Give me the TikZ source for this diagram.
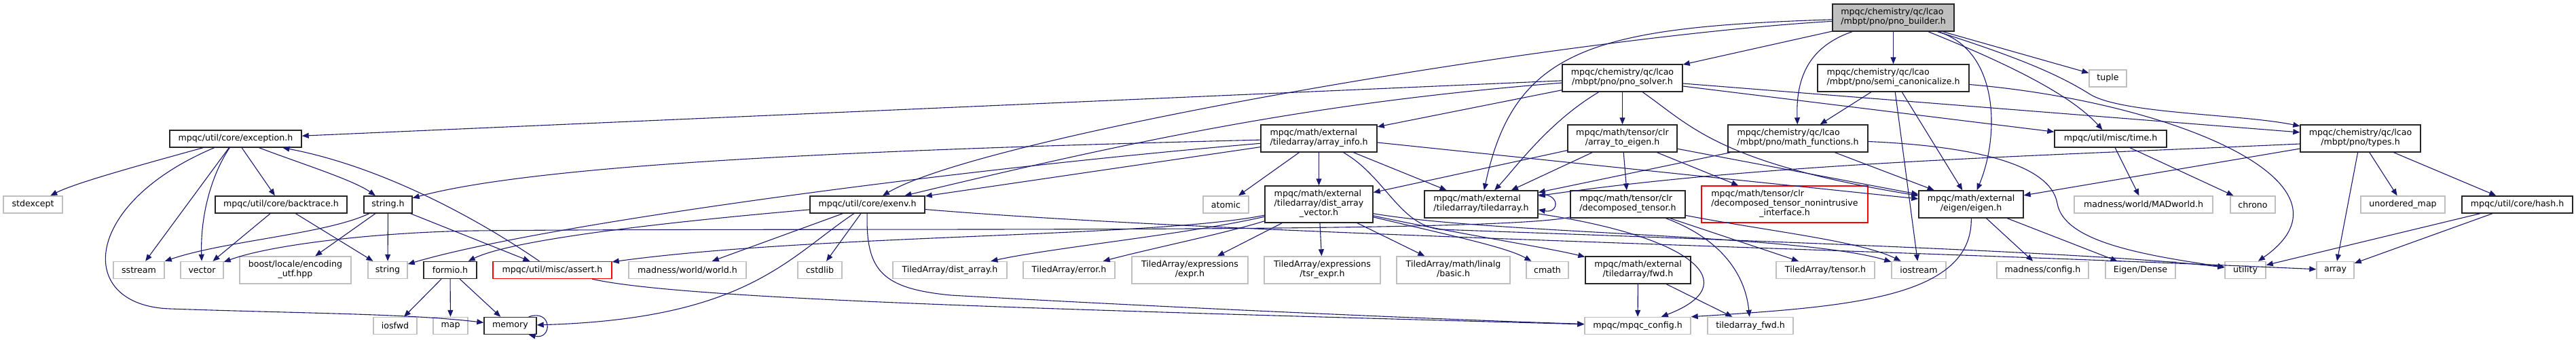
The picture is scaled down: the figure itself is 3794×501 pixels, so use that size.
\documentclass[tikz,border=0pt]{standalone}
\usepackage{fontspec}
\setmainfont{DejaVu Sans}
\usetikzlibrary{arrows.meta}
\definecolor{edgeBlue}{RGB}{25,25,112}
\definecolor{boxGrey}{RGB}{191,191,191}
\definecolor{boxRed}{RGB}{255,0,0}
\newcommand{\twoln}[2]{\begin{tabular}{@{}l@{}}#1\\\multicolumn{1}{@{}c@{}}{#2}\end{tabular}}
\newcommand{\threeln}[3]{\begin{tabular}{@{}l@{}}#1\\#2\\\multicolumn{1}{@{}c@{}}{#3}\end{tabular}}

\begin{document}
\begin{tikzpicture}[x=0.5pt, y=-0.5pt,
        hdr/.style={rectangle, draw=black!85, fill=white, line width=0.7pt, inner sep=0pt, font=\fontsize{6.3}{7}\selectfont},
        sys/.style={hdr, draw=boxGrey},
        miss/.style={hdr, draw=boxRed},
        rootbox/.style={hdr, fill=boxGrey},
        one/.style={minimum height=12.5pt},
        two/.style={minimum height=20pt},
        three/.style={minimum height=27pt},
        arr/.style={-{Triangle[length=5pt,width=4pt]}, draw=edgeBlue, line width=0.55pt},
    ]
    \useasboundingbox (0,0) rectangle (3794,501);
    % rows 0-2
    \node[rootbox, two, minimum width=89.5pt] (pb) at (2788.5,26) {\twoln{mpqc/chemistry/qc/lcao}{/mbpt/pno/pno\_builder.h}};
    \node[hdr, two, minimum width=88.5pt] (ps) at (2389.5,115) {\twoln{mpqc/chemistry/qc/lcao}{/mbpt/pno/pno\_solver.h}};
    \node[hdr, two, minimum width=111.5pt] (semi) at (2788.5,115) {\twoln{mpqc/chemistry/qc/lcao}{/mbpt/pno/semi\_canonicalize.h}};
    \node[sys, one, minimum width=27.5pt] (tuple) at (3104.5,115.5) {tuple};
    \node[hdr, one, minimum width=97pt] (exc) at (347,204.5) {mpqc/util/core/exception.h};
    \node[hdr, two, minimum width=85.5pt] (arrinfo) at (1942.5,204) {\twoln{mpqc/math/external}{/tiledarray/array\_info.h}};
    \node[hdr, two, minimum width=80.5pt] (a2e) at (2389.5,204) {\twoln{mpqc/math/tensor/clr}{/array\_to\_eigen.h}};
    \node[hdr, two, minimum width=103pt] (mathfn) at (2648,204) {\twoln{mpqc/chemistry/qc/lcao}{/mbpt/pno/math\_functions.h}};
    \node[hdr, one, minimum width=82.5pt] (timeh) at (3108.5,204.5) {mpqc/util/misc/time.h};
    \node[hdr, two, minimum width=88.5pt] (types) at (3476.5,204) {\twoln{mpqc/chemistry/qc/lcao}{/mbpt/pno/types.h}};
    % row 3
    \node[sys, one, minimum width=43.5pt] (stdexc) at (48.5,301.5) {stdexcept};
    \node[hdr, one, minimum width=97pt] (btrace) at (414,301.5) {mpqc/util/core/backtrace.h};
    \node[hdr, one, minimum width=35.5pt] (strh) at (571.5,301.5) {string.h};
    \node[hdr, one, minimum width=84.5pt] (exenv) at (1277.5,301.5) {mpqc/util/core/exenv.h};
    \node[sys, one, minimum width=33.5pt] (atomic) at (1805.5,301.5) {atomic};
    \node[hdr, three, minimum width=79.5pt] (dav) at (1942.5,301) {\threeln{mpqc/math/external}{/tiledarray/dist\_array}{\_vector.h}};
    \node[hdr, two, minimum width=83.5pt] (tah) at (2181.5,301) {\twoln{mpqc/math/external}{/tiledarray/tiledarray.h}};
    \node[hdr, two, minimum width=84.5pt] (dect) at (2397.5,301) {\twoln{mpqc/math/tensor/clr}{/decomposed\_tensor.h}};
    \node[miss, three, minimum width=122.5pt] (nonintr) at (2628.5,301) {\threeln{mpqc/math/tensor/clr}{/decomposed\_tensor\_nonintrusive}{\_interface.h}};
    \node[hdr, two, minimum width=77pt] (eigen) at (2903,301) {\twoln{mpqc/math/external}{/eigen/eigen.h}};
    \node[sys, one, minimum width=102pt] (madw) at (3157,301.5) {madness/world/MADworld.h};
    \node[sys, one, minimum width=33pt] (chrono) at (3318,301.5) {chrono};
    \node[sys, one, minimum width=62pt] (umap) at (3539,301.5) {unordered\_map};
    \node[hdr, one, minimum width=81.5pt] (hash) at (3707.5,301.5) {mpqc/util/core/hash.h};
    % row 4
    \node[sys, one, minimum width=37.5pt] (sstr) at (204.5,398) {sstream};
    \node[sys, one, minimum width=31.5pt] (vec) at (297.5,398) {vector};
    \node[sys, two, minimum width=82pt] (boost) at (435,398) {\twoln{boost/locale/encoding}{\_utf.hpp}};
    \node[sys, one, minimum width=29pt] (str) at (571,398) {string};
    \node[hdr, one, minimum width=39pt] (formio) at (663,398) {formio.h};
    \node[miss, one, minimum width=87.5pt] (assert) at (813.5,398) {mpqc/util/misc/assert.h};
    \node[sys, one, minimum width=86.5pt] (worldh) at (1012.5,398) {madness/world/world.h};
    \node[sys, one, minimum width=32.5pt] (cstdlib) at (1207.5,398) {cstdlib};
    \node[sys, one, minimum width=84pt] (tadist) at (1399,398) {TiledArray/dist\_array.h};
    \node[sys, one, minimum width=67.5pt] (taerr) at (1574.5,398) {TiledArray/error.h};
    \node[sys, two, minimum width=85.5pt] (taexpr) at (1752.5,398) {\twoln{TiledArray/expressions}{/expr.h}};
    \node[sys, two, minimum width=85.5pt] (tatsr) at (1947.5,398) {\twoln{TiledArray/expressions}{/tsr\_expr.h}};
    \node[sys, two, minimum width=83.5pt] (tabasic) at (2140.5,398) {\twoln{TiledArray/math/linalg}{/basic.h}};
    \node[sys, one, minimum width=31pt] (cmath) at (2279,398) {cmath};
    \node[hdr, two, minimum width=77.5pt] (fwd) at (2412.5,398) {\twoln{mpqc/math/external}{/tiledarray/fwd.h}};
    \node[sys, one, minimum width=72.5pt] (tatensor) at (2688.5,398) {TiledArray/tensor.h};
    \node[sys, one, minimum width=40pt] (iostr) at (2826,398) {iostream};
    \node[sys, one, minimum width=67.5pt] (madcfg) at (3008.5,398) {madness/config.h};
    \node[sys, one, minimum width=51.5pt] (edense) at (3152.5,398) {Eigen/Dense};
    \node[sys, one, minimum width=30pt] (util) at (3307,398) {utility};
    \node[sys, one, minimum width=27.5pt] (stdarr) at (3439.5,398) {array};
    % row 5
    \node[sys, one, minimum width=32pt] (iosfwd) at (582,480) {iosfwd};
    \node[sys, one, minimum width=25.5pt] (map) at (663.5,480) {map};
    \node[hdr, one, minimum width=38.5pt] (memory) at (751.5,480) {memory};
    \node[sys, one, minimum width=78pt] (mcfg) at (2412,480) {mpqc/mpqc\_config.h};
    \node[sys, one, minimum width=63pt] (tafwd) at (2578,480) {tiledarray\_fwd.h};
    % edges
    \draw[arr] (pb) -- (ps);
    \draw[arr] (pb) -- (semi);
    \draw[arr] (pb) .. controls (2660,70) and (2645,120) .. (mathfn);
    \draw[arr] (pb) .. controls (2945,75) and (2945,200) .. (eigen);
    \draw[arr] (pb) .. controls (2960,95) and (3050,140) .. (timeh);
    \draw[arr] (pb) -- (tuple);
    \draw[arr] (pb) .. controls (2990,90) and (3040,115) .. (3080,140) .. controls (3130,168) and (3300,168) .. (types);
    \draw[arr] (pb) .. controls (2350,40) and (2230,70) .. (tah);
    \draw[arr] (pb) .. controls (2300,55) and (1450,200) .. (exenv);
    \draw[arr] (ps) -- (exc);
    \draw[arr] (ps) .. controls (1950,150) and (1700,200) .. (exenv);
    \draw[arr] (ps) -- (arrinfo);
    \draw[arr] (ps) .. controls (2280,180) and (2230,250) .. (tah);
    \draw[arr] (ps) -- (a2e);
    \draw[arr] (ps) .. controls (2490,185) and (2530,240) .. (eigen);
    \draw[arr] ([yshift=-4pt]ps.east) -- ([yshift=4.5pt]types.west);
    \draw[arr] ([yshift=-6pt]ps.east) -- (timeh);
    \draw[arr] (semi) -- (mathfn);
    \draw[arr] (semi) -- (iostr);
    \draw[arr] (semi) -- (eigen);
    \draw[arr] (semi) .. controls (3200,150) and (3490,270) .. (util);
    \draw[arr] (a2e) -- (dect);
    \draw[arr] (a2e) -- (tah);
    \draw[arr] (a2e) -- (dav);
    \draw[arr] (a2e) -- (nonintr);
    \draw[arr] (a2e) -- (eigen);
    \draw[arr] (mathfn) -- (tah);
    \draw[arr] (mathfn) -- (eigen);
    \draw[arr] (mathfn) .. controls (2900,215) and (3020,240) .. (3030,300) .. controls (3040,355) and (3150,375) .. (util);
    \draw[arr] ([yshift=7pt]tah.east) .. controls +(32,-4) and +(32,6) .. ([yshift=-4pt]tah.east);
    \draw[arr] ([yshift=-7pt]tah.east) .. controls (2500,350) and (2570,420) .. (mcfg);
    \draw[arr] (dect) -- (tatensor);
    \draw[arr] (dect) .. controls (2600,340) and (2740,355) .. (iostr);
    \draw[arr] (dect) .. controls (2530,350) and (2570,400) .. (tafwd);
    \draw[arr] (dect) .. controls (2200,345) and (1200,335) .. (700,340) .. controls (560,342) and (400,360) .. (vec);
    \draw[arr] (dav) .. controls (1750,345) and (1550,365) .. (tadist);
    \draw[arr] (dav) .. controls (1800,345) and (1700,365) .. (taerr);
    \draw[arr] (dav) -- (taexpr);
    \draw[arr] (dav) -- (tatsr);
    \draw[arr] (dav) -- (tabasic);
    \draw[arr] (dav) .. controls (2150,350) and (2220,365) .. (cmath);
    \draw[arr] (dav) .. controls (2150,345) and (2280,365) .. (fwd);
    \draw[arr] (dav) .. controls (2200,345) and (2650,345) .. (iostr);
    \draw[arr] (dav) .. controls (1700,350) and (1200,345) .. (assert);
    \draw[arr] (arrinfo) -- (dav);
    \draw[arr] (arrinfo) -- (atomic);
    \draw[arr] (arrinfo) -- (tah);
    \draw[arr] ([yshift=-3pt]arrinfo.east) -- (eigen);
    \draw[arr] (arrinfo) .. controls (1300,220) and (800,240) .. (strh);
    \draw[arr] (arrinfo) .. controls (1400,250) and (800,330) .. (str);
    \draw[arr] (arrinfo) -- (exenv);
    \draw[arr] (arrinfo) .. controls (2040,260) and (2060,330) .. (2120,338) .. controls (2500,352) and (3100,372) .. (util);
    \draw[arr] (exenv) .. controls (950,330) and (750,355) .. (formio);
    \draw[arr] (exenv) -- (worldh);
    \draw[arr] (exenv) -- (cstdlib);
    \draw[arr] (exenv) .. controls (1160,380) and (1100,470) .. (memory);
    \draw[arr] (exenv) .. controls (1275,400) and (1300,425) .. (1400,435) .. controls (1700,452) and (2100,470) .. (mcfg);
    \draw[arr] (exenv) .. controls (1800,345) and (2700,365) .. (stdarr);
    \draw[arr] (exc) .. controls (200,245) and (110,270) .. (stdexc);
    \draw[arr] (exc) -- (sstr);
    \draw[arr] (exc) .. controls (310,260) and (295,320) .. (vec);
    \draw[arr] (exc) .. controls (120,300) and (110,450) .. (250,455) .. controls (450,462) and (600,462) .. (memory);
    \draw[arr] (exc) -- (btrace);
    \draw[arr] (exc) .. controls (440,240) and (520,265) .. (strh);
    \draw[arr] (btrace) -- (vec);
    \draw[arr] (btrace) -- (str);
    \draw[arr] (strh) .. controls (480,345) and (330,355) .. (sstr);
    \draw[arr] (strh) -- (boost);
    \draw[arr] (strh) -- (str);
    \draw[arr] (strh) -- (assert);
    \draw[arr] (assert) .. controls (700,320) and (560,245) .. (exc);
    \draw[arr] (assert) .. controls (1000,440) and (1500,455) .. (mcfg);
    \draw[arr] (formio) -- (iosfwd);
    \draw[arr] (formio) -- (map);
    \draw[arr] (formio) -- (memory);
    \draw[arr] ([xshift=-6pt]memory.north east) .. controls +(35,-12) and +(35,8) .. ([xshift=-6pt]memory.south east);
    \draw[arr] (fwd) -- (mcfg);
    \draw[arr] (fwd) -- (tafwd);
    \draw[arr] (eigen) -- (madcfg);
    \draw[arr] (eigen) -- (edense);
    \draw[arr] (eigen) .. controls (2905,440) and (2720,452) .. (mcfg.north east);
    \draw[arr] ([yshift=-4pt]types.west) .. controls (3000,230) and (2600,240) .. (tah);
    \draw[arr] (types) -- (eigen);
    \draw[arr] (types) -- (stdarr);
    \draw[arr] (types) -- (umap);
    \draw[arr] (types) -- (hash);
    \draw[arr] (hash) -- (util);
    \draw[arr] (hash) -- (stdarr);
    \draw[arr] (timeh) -- (madw);
    \draw[arr] (timeh) -- (chrono);
\end{tikzpicture}
\end{document}
